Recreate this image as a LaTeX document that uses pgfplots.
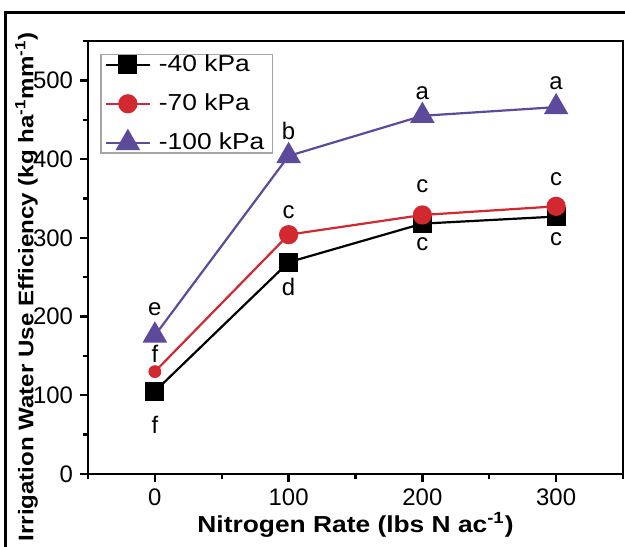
\documentclass[border=0pt]{standalone}
\usepackage{fontspec}
\setmainfont{Liberation Sans}
\newfontfamily\widefont[FakeStretch=1.14]{Liberation Sans}
\usepackage{pgfplots}
\pgfplotsset{compat=1.18}
\definecolor{cred}{RGB}{210,40,48}
\definecolor{cpurple}{RGB}{94,74,155}

\begin{document}
\begin{tikzpicture}
\useasboundingbox (-44bp,-36.5bp) rectangle (268.5bp,237bp);
\begin{axis}[at={(0,0)}, anchor=south west, scale only axis,
  width=267.5bp, height=216.5bp,
  xmin=-50, xmax=350, ymin=0, ymax=550,
  xtick={0,100,200,300}, minor xtick={-50,50,150,250,350},
  ytick={0,100,...,500}, minor ytick={50,150,...,550},
  tick align=outside, xtick pos=left, ytick pos=left,
  major tick length=4bp, minor tick length=2.7bp,
  axis line style={line width=1.2bp},
  tick style={line width=1.2bp, black},
  tick label style={font=\fontsize{12}{14}\selectfont},
  /pgf/number format/assume math mode=true,
  xlabel={\textbf{Nitrogen Rate (lbs N ac\textsuperscript{-1})}},
  xlabel style={font=\widefont\fontsize{11.6}{14}\selectfont, at={(axis description cs:0.5,-0.118)}, anchor=center},
  ylabel={\textbf{Irrigation Water Use Efficiency (kg ha\textsuperscript{-1}mm\textsuperscript{-1})}},
  ylabel style={font=\widefont\fontsize{10.6}{13}\selectfont, at={(axis description cs:-0.115,0.432)}, anchor=center},
  legend style={at={(0.0224,0.971)}, anchor=north west, draw=black!35, line width=0.8bp,
    font=\widefont\fontsize{11.6}{14}\selectfont, row sep=5.7bp, inner xsep=2bp, inner ysep=-1.8bp,
    nodes={inner ysep=2bp}},
  legend cell align=left,
  legend image code/.code={\draw[mark repeat=2,mark phase=2] plot coordinates {(0bp,0bp) (11bp,0bp) (22bp,0bp)};
    \path (24bp,0bp);},
]
\addplot[black, line width=1.1bp, mark=square*, mark size=4.25bp, forget plot] coordinates {
  (0,105) (100,269) (200,318) (300,327)
};
\addplot[cred, line width=1.1bp, mark=*, mark size=4.25bp, mark indices={2,3,4}, forget plot] coordinates {
  (0,130) (100,304) (200,329) (300,340)
};
\addplot[cred, only marks, mark=*, mark size=3bp, forget plot] coordinates {(0,130)};
\addplot[cpurple, line width=1.1bp, mark=triangle*, mark size=6bp, forget plot] coordinates {
  (0,176) (100,404) (200,455) (300,466)
};

\addlegendimage{black, line width=1.1bp, mark=square*, mark size=4.25bp}
\addlegendentry{-40 kPa}
\addlegendimage{cred, line width=1.1bp, mark=*, mark size=4.25bp}
\addlegendentry{-70 kPa}
\addlegendimage{cpurple, line width=1.1bp, mark=triangle*, mark size=6bp}
\addlegendentry{-100 kPa}

\begin{scope}[every node/.style={font=\fontsize{12}{14}\selectfont}]
\node at (axis cs:0,62) {f};
\node at (axis cs:100,237) {d};
\node at (axis cs:200,292) {c};
\node at (axis cs:300,298) {c};
\node at (axis cs:0,152) {f};
\node at (axis cs:100,333) {c};
\node at (axis cs:200,366) {c};
\node at (axis cs:300,374) {c};
\node at (axis cs:0,209) {e};
\node at (axis cs:100,436) {b};
\node at (axis cs:200,484) {a};
\node at (axis cs:300,496) {a};
\end{scope}
\end{axis}
\draw[line width=1.5bp] (-41bp,-40bp) -- (-41bp,230.5bp) -- (272bp,230.5bp);
\end{tikzpicture}
\end{document}
